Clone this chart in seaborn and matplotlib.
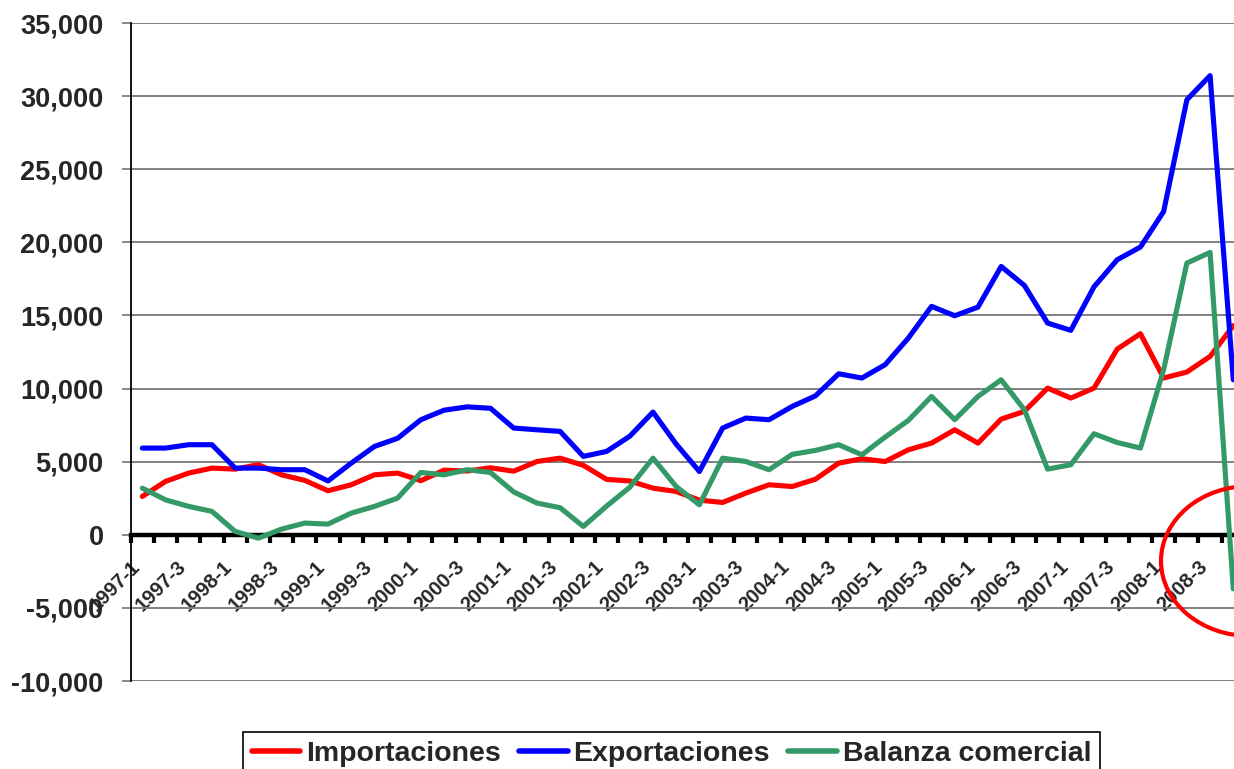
import numpy as np
import pandas as pd
import matplotlib.pyplot as plt
import matplotlib.transforms as mtrans
from matplotlib.patches import Ellipse
import seaborn as sns

# trimestres 1997-1 ... 2008-4
periodos = [f"{anio}-{tri}" for anio in range(1997, 2009) for tri in range(1, 5)]

importaciones = [2620, 3650, 4220, 4560, 4490, 4790, 4100, 3720, 3010, 3420,
                 4100, 4220, 3700, 4420, 4360, 4580, 4350, 5010, 5240, 4750,
                 3790, 3680, 3190, 2960, 2370, 2210, 2850, 3420, 3300, 3800,
                 4900, 5200, 5010, 5810, 6270, 7180, 6270, 7910, 8440, 10030,
                 9350, 10030, 12700, 13750, 10720, 11130, 12200, 14300]

exportaciones = [5930, 5930, 6160, 6160, 4560, 4560, 4450, 4450, 3680, 4900,
                 6040, 6600, 7870, 8520, 8750, 8650, 7300, 7180, 7070, 5360,
                 5700, 6740, 8390, 6200, 4330, 7300, 7980, 7870, 8780, 9500,
                 11010, 10720, 11630, 13450, 15620, 14980, 15570, 18350, 17050, 14480,
                 13980, 16960, 18810, 19680, 22110, 29750, 31400, 10600]

balanza = [3190, 2390, 1940, 1600, 230, -230, 390, 800, 730, 1480,
           1940, 2510, 4260, 4100, 4450, 4260, 2930, 2170, 1850, 570,
           1960, 3250, 5240, 3300, 2050, 5240, 5010, 4450, 5500, 5770,
           6160, 5470, 6680, 7820, 9460, 7870, 9460, 10600, 8550, 4490,
           4790, 6910, 6310, 5930, 11300, 18580, 19310, -3700]

series = ["Importaciones", "Exportaciones", "Balanza comercial"]
colores = {"Importaciones": "#FF0000", "Exportaciones": "#0000FF",
           "Balanza comercial": "#339966"}

df = pd.DataFrame({"periodo": periodos,
                   "Importaciones": importaciones,
                   "Exportaciones": exportaciones,
                   "Balanza comercial": balanza})
df["pos"] = np.arange(len(df))
largo = df.melt(id_vars=["periodo", "pos"], value_vars=series,
                var_name="serie", value_name="valor")

sns.set_style("white")
plt.rcParams["font.family"] = ["Liberation Sans", "DejaVu Sans"]
plt.rcParams["font.weight"] = "bold"

W, H = 1234, 769
fig = plt.figure(figsize=(W / 100, H / 100), dpi=100)
# the plot area runs a little past the right edge, as in the cropped original
ax = fig.add_axes([130.7 / W, 88 / H, 1114.2 / W, 658 / H])

sns.lineplot(data=largo, x="pos", y="valor", hue="serie", hue_order=series,
             palette=colores, linewidth=3.7, errorbar=None, ax=ax, zorder=3)
handles, labels = ax.get_legend_handles_labels()
ax.get_legend().remove()

ax.set_xlim(-0.5, len(periodos) - 0.5)
ax.set_ylim(-10000, 35000)
ax.set_yticks(np.arange(-10000, 35001, 5000))
ax.set_yticklabels(["{:,.0f}".format(v) for v in np.arange(-10000, 35001, 5000)])
ax.set_xlabel("")
ax.set_ylabel("")

ax.yaxis.grid(True, color="#808080", linewidth=1.4)
ax.xaxis.grid(False)
ax.set_axisbelow(True)

for s in ["top", "right"]:
    ax.spines[s].set_visible(False)
ax.spines["left"].set_color("black")
ax.spines["left"].set_linewidth(1.3)
ax.spines["bottom"].set_position(("data", 0))
ax.spines["bottom"].set_color("black")
ax.spines["bottom"].set_linewidth(3.2)

ax.tick_params(axis="y", direction="out", length=6.5, width=1.3,
               color="#808080", pad=13, labelsize=19.5, left=True)

# tick marks between categories, labels every second quarter
ax.set_xticks(np.arange(-0.5, len(periodos), 1))
ax.set_xticklabels([])
ax.set_xticks(df["pos"][::2], periodos[::2], minor=True)
ax.tick_params(axis="x", which="major", direction="out", length=5.5, width=3,
               color="black", bottom=True)
ax.tick_params(axis="x", which="minor", length=0, pad=21, labelsize=14.5)
desplaza = mtrans.ScaledTranslation(-4 / 72, 0, fig.dpi_scale_trans)
for lbl in ax.get_xticklabels(minor=True):
    lbl.set_rotation(45)
    lbl.set_ha("right")
    lbl.set_va("center")
    lbl.set_rotation_mode("anchor")
    lbl.set_transform(lbl.get_transform() + desplaza)

# red circle drawn over the last quarters
circulo = Ellipse((1250 / W, 1 - 561 / H), 178 / W, 150 / H,
                  transform=fig.transFigure, fill=False,
                  edgecolor="#FF0000", linewidth=3)
fig.patches.append(circulo)

leg = fig.legend(handles, labels, loc="upper center",
                 bbox_to_anchor=(671.5 / W, 1 - 732 / H), ncol=3,
                 prop={"size": 20.5, "weight": "bold"}, frameon=True,
                 fancybox=False, edgecolor="black", framealpha=1,
                 handlelength=1.7, handletextpad=0.2, columnspacing=0.65,
                 borderpad=0.3, borderaxespad=0)
leg.get_frame().set_linewidth(1.2)
for h in leg.get_lines():
    h.set_linewidth(4)

plt.savefig("out.png", dpi=100)
